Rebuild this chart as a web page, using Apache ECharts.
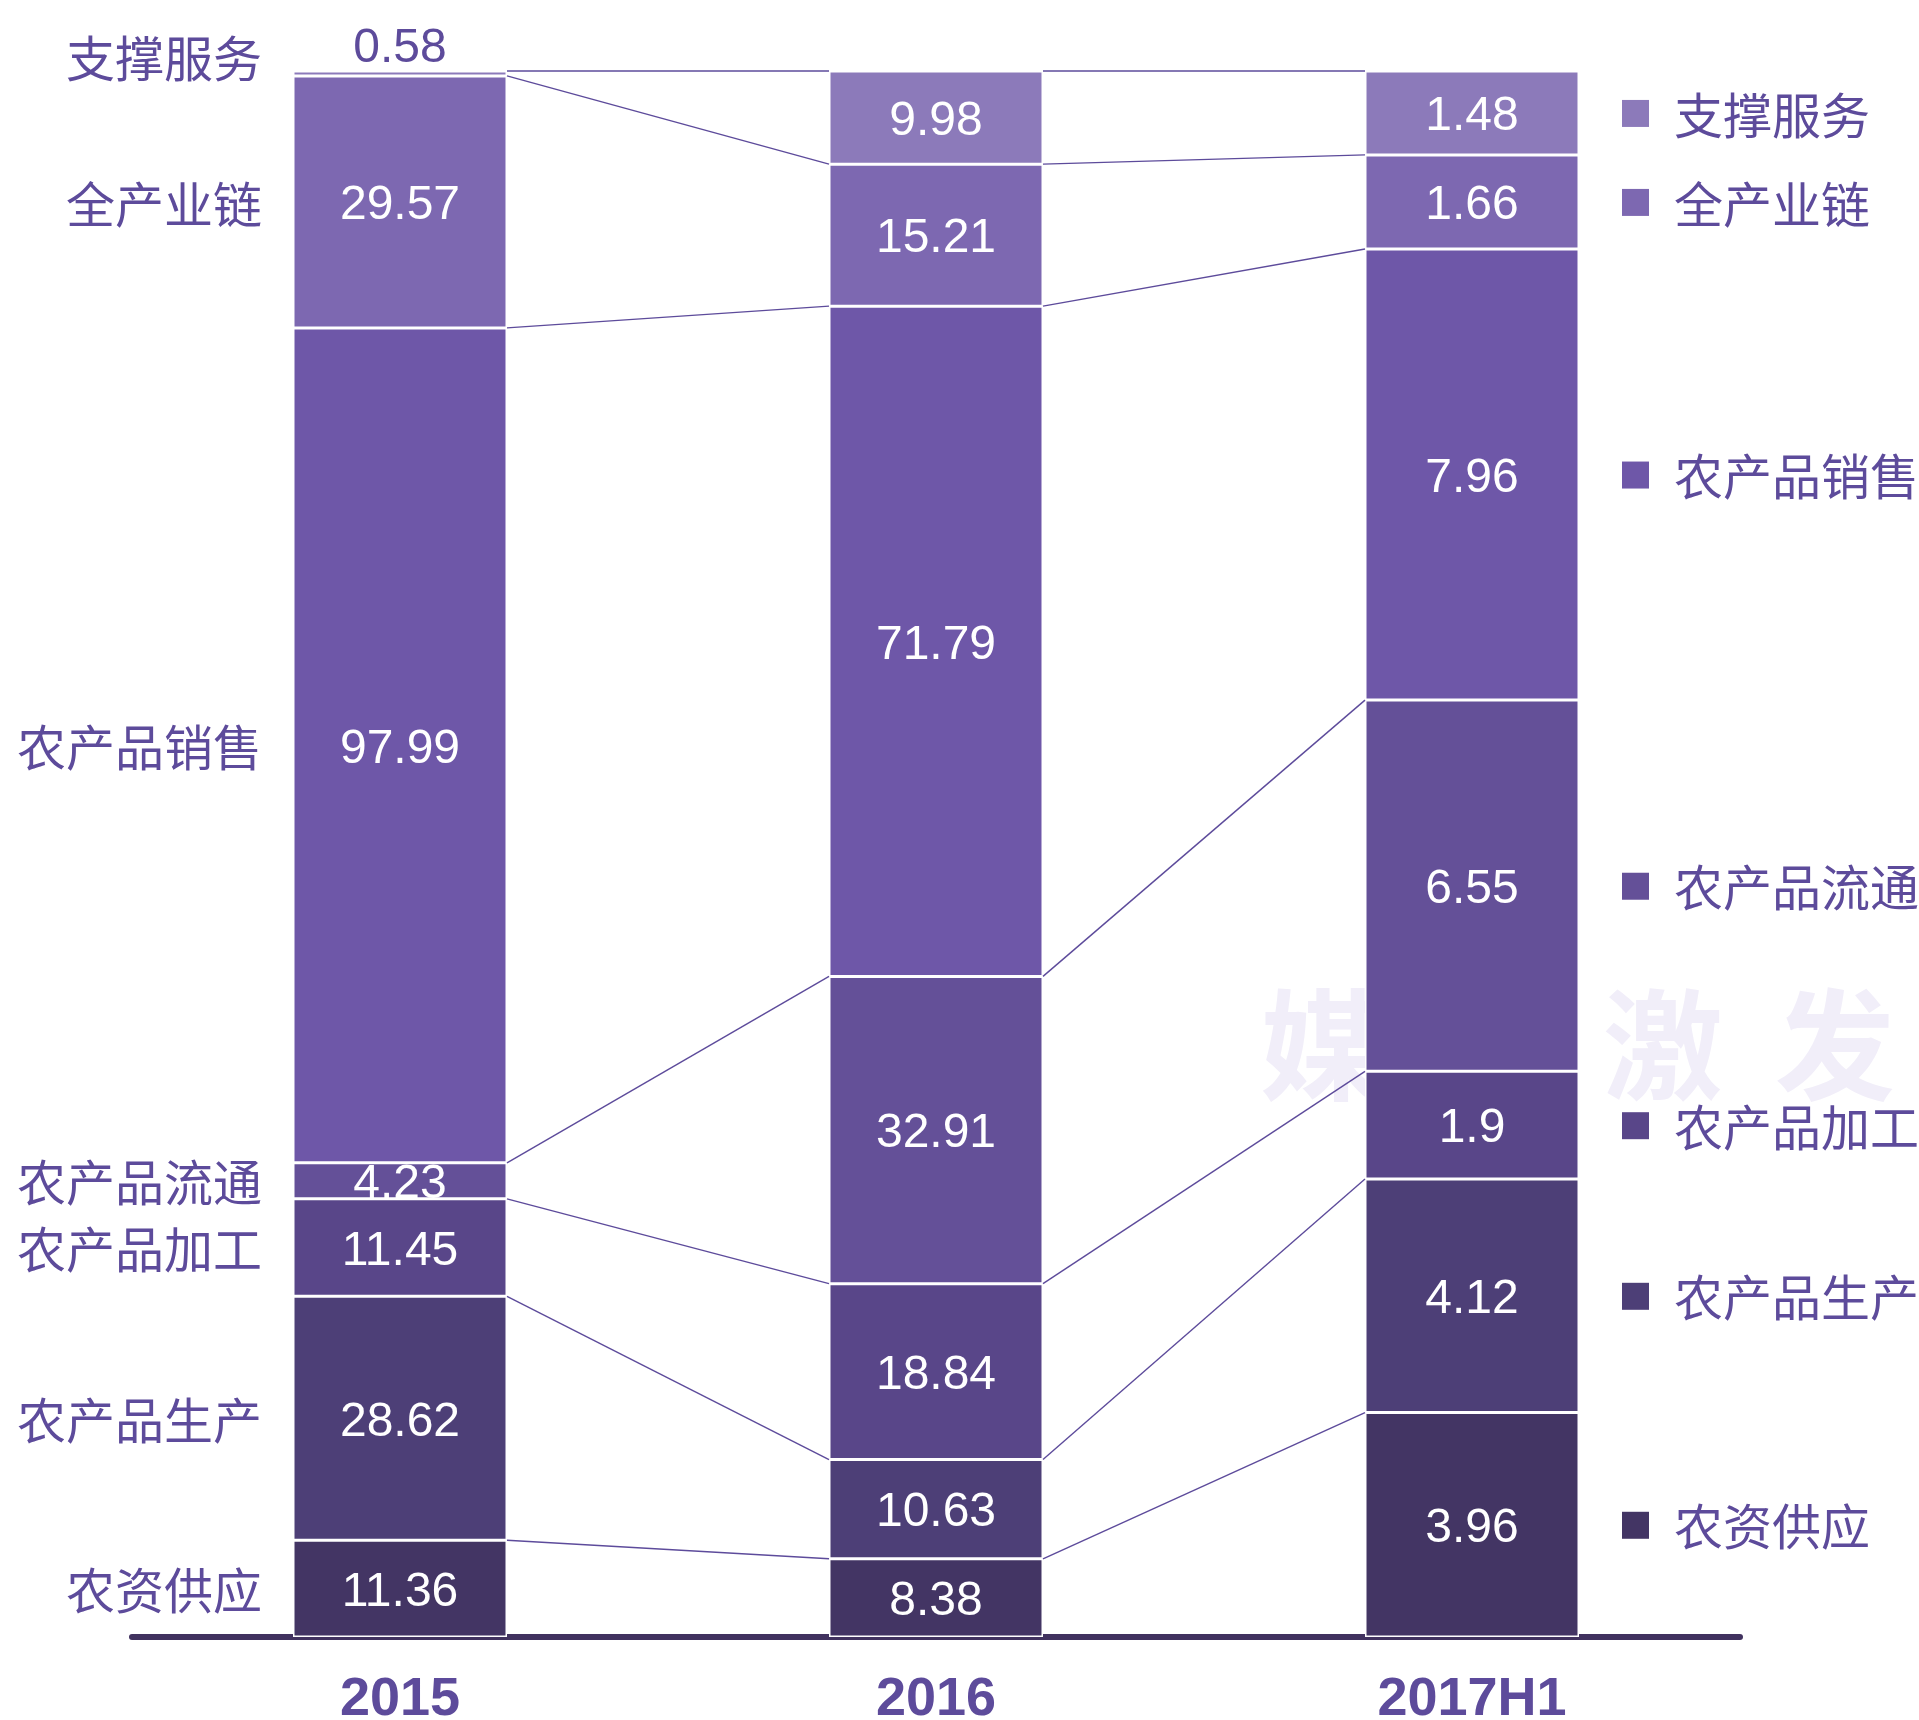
<!DOCTYPE html>
<html>
<head>
<meta charset="utf-8">
<script src="https://cdn.jsdelivr.net/npm/echarts@6/dist/echarts.min.js"></script>
<style>
  html, body { margin: 0; padding: 0; background: #fff; }
  #chart { width: 1919px; height: 1720px; }
</style>
</head>
<body>
<div id="chart"></div>
<script>
// 数据
const categories = ['2015', '2016', '2017H1'];
const seriesNames = ['农资供应', '农产品生产', '农产品加工', '农产品流通', '农产品销售', '全产业链', '支撑服务'];
const nongziGongying = [11.36, 8.38, 3.96];
const chanpinShengchan = [28.62, 10.63, 4.12];
const chanpinJiagong = [11.45, 18.84, 1.9];
const chanpinLiutong = [4.23, 32.91, 6.55];
const chanpinXiaoshou = [97.99, 71.79, 7.96];
const quanChanyelian = [29.57, 15.21, 1.66];
const zhichengFuwu = [0.58, 9.98, 1.48];
const seriesValues = [nongziGongying, chanpinShengchan, chanpinJiagong, chanpinLiutong, chanpinXiaoshou, quanChanyelian, zhichengFuwu];

// 样式
const colors = ['#433564', '#4d3f77', '#594689', '#645098', '#6e57a8', '#7d68b1', '#8c7aba'];
const TEXT_COLOR = '#5d4b9b';
const LINE_COLOR = '#5d4b9b';
const BAR_W = 214;
const FONT = 'Liberation Sans, Noto Sans CJK SC, sans-serif';
const CJK_FONT = 'Noto Sans CJK SC, sans-serif';

// 百分比堆叠
const totals = categories.map((c, i) => seriesValues.reduce((sum, arr) => sum + arr[i], 0));
const pct = seriesValues.map(arr => arr.map((v, i) => v / totals[i] * 100));
const cumTop = categories.map((c, i) => {
    let acc = 0;
    return pct.map(p => (acc += p[i]));
});

// 连接线数据
const links = [];
for (let i = 0; i < categories.length - 1; i++) {
    for (let s = 0; s < seriesNames.length; s++) links.push([i, s]);
}

const chart = echarts.init(document.getElementById('chart'));

const barSeries = seriesNames.map((name, s) => ({
    name: name,
    type: 'bar',
    stack: 'total',
    barWidth: BAR_W,
    itemStyle: { color: colors[s], borderColor: '#fff', borderWidth: 1.5 },
    label: {
        show: true,
        position: 'inside',
        offset: [0, 4],
        color: '#fff',
        fontSize: 48,
        fontFamily: FONT,
        formatter: p => String(seriesValues[s][p.dataIndex])
    },
    data: pct[s].map((v, i) => (s === 6 && i === 0)
        ? { value: v, label: { position: 'top', color: TEXT_COLOR, distance: 2 } }
        : v)
}));

const linkSeries = {
    type: 'custom',
    silent: true,
    z: 3,
    encode: { x: 0, y: 1 },
    renderItem: function (params, api) {
        const i = api.value(0), s = api.value(1);
        const a = api.coord([i, cumTop[i][s]]);
        const b = api.coord([i + 1, cumTop[i + 1][s]]);
        return {
            type: 'line',
            shape: { x1: a[0] + BAR_W / 2, y1: a[1], x2: b[0] - BAR_W / 2, y2: b[1] },
            style: { stroke: LINE_COLOR, lineWidth: 1.4 }
        };
    },
    data: links
};

const labelSeries = {
    type: 'custom',
    silent: true,
    z: 4,
    encode: { x: 0, y: 1 },
    renderItem: function (params, api) {
        const s = api.value(1);
        const last = categories.length - 1;
        const left = api.coord([0, cumTop[0][s] - pct[s][0] / 2]);
        const right = api.coord([last, cumTop[last][s] - pct[s][last] / 2]);
        const leftY = s === 6 ? left[1] - 17 : left[1];
        return {
            type: 'group',
            children: [
                {
                    type: 'text', x: left[0] - BAR_W / 2 - 31, y: leftY + 2,
                    style: { text: seriesNames[s], fill: TEXT_COLOR, fontSize: 49, fontFamily: CJK_FONT, align: 'right', verticalAlign: 'middle' }
                },
                {
                    type: 'rect',
                    shape: { x: right[0] + BAR_W / 2 + 43, y: right[1] - 13, width: 27, height: 27 },
                    style: { fill: colors[s] }
                },
                {
                    type: 'text', x: right[0] + BAR_W / 2 + 95, y: right[1] + 2,
                    style: { text: seriesNames[s], fill: TEXT_COLOR, fontSize: 49, fontFamily: CJK_FONT, align: 'left', verticalAlign: 'middle' }
                }
            ]
        };
    },
    data: seriesNames.map((n, s) => [0, s])
};

const option = {
    backgroundColor: '#fff',
    animation: false,
    grid: { left: 132, right: 179, top: 71, bottom: 83, containLabel: false, outerBoundsMode: 'none' },
    graphic: [
        { type: 'text', x: 1320, y: 1045, z: -10, style: { text: '媒', fontSize: 120, fontWeight: 'bold', fontFamily: CJK_FONT, fill: '#f1eef9', align: 'center', verticalAlign: 'middle' } },
        { type: 'text', x: 1663, y: 1045, z: -10, style: { text: '激', fontSize: 120, fontWeight: 'bold', fontFamily: CJK_FONT, fill: '#f1eef9', align: 'center', verticalAlign: 'middle' } },
        { type: 'text', x: 1835, y: 1045, z: -10, style: { text: '发', fontSize: 120, fontWeight: 'bold', fontFamily: CJK_FONT, fill: '#f1eef9', align: 'center', verticalAlign: 'middle' } }
    ],
    xAxis: {
        type: 'category',
        data: categories,
        axisLine: { lineStyle: { color: '#41325f', width: 6 } },
        axisTick: { show: false },
        axisLabel: { color: TEXT_COLOR, fontSize: 54, fontWeight: 'bold', fontFamily: FONT, margin: 36 }
    },
    yAxis: { type: 'value', min: 0, max: 100, show: false },
    series: barSeries.concat([linkSeries, labelSeries])
};

chart.setOption(option);
</script>
</body>
</html>
